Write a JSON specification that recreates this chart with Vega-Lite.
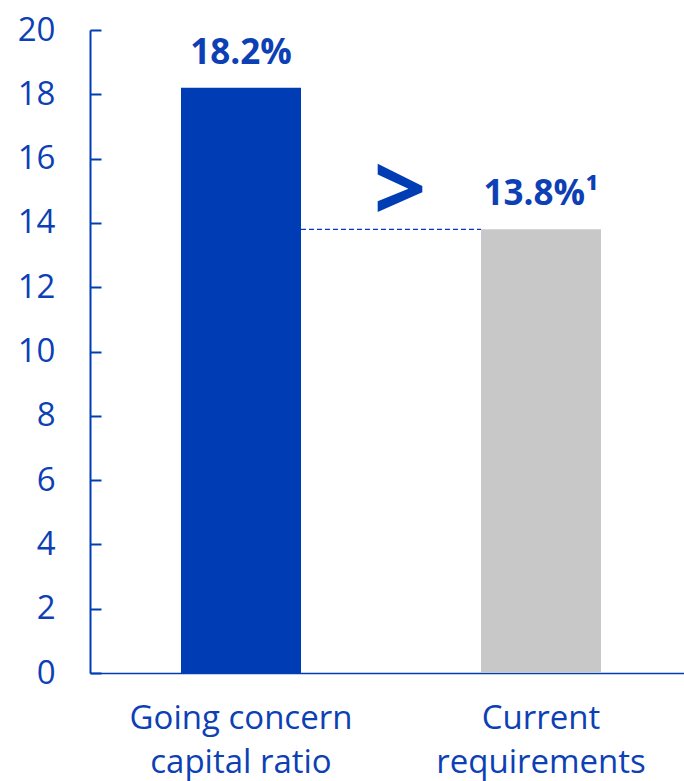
{
  "$schema": "https://vega.github.io/schema/vega-lite/v6.json",
  "width": 594,
  "height": 643,
  "autosize": "none",
  "padding": {"left": 90, "top": 30, "right": 0, "bottom": 108},
  "background": "white",
  "config": {"view": {"stroke": null}, "font": "Open Sans"},
  "data": {"values": [
    {"category": "Going concern capital ratio", "value": 18.2, "label": "18.2%"},
    {"category": "Current requirements", "value": 13.8, "label": "13.8%¹"}
  ]},
  "encoding": {
    "x": {
      "field": "category", "type": "nominal", "sort": null,
      "scale": {"paddingInner": 0.6, "paddingOuter": 0.29, "align": 0.523},
      "axis": {
        "title": null, "labelAngle": 0, "ticks": false,
        "domainColor": "#003DB5", "domainWidth": 1.5,
        "labelColor": "#0D3FB5", "labelFontSize": 33, "labelFont": "Open Sans",
        "labelLineHeight": 44, "labelPadding": 29, "labelBaseline": "top", "labelLimit": 400,
        "labelExpr": "datum.label == 'Going concern capital ratio' ? ['Going concern', 'capital ratio'] : ['Current', 'requirements']"
      }
    }
  },
  "layer": [
    {
      "data": {"values": [{"from": "Going concern capital ratio", "to": "Current requirements", "value": 13.8}]},
      "mark": {"type": "rule", "strokeDash": [5, 3], "strokeWidth": 1.3, "color": "#003DB5"},
      "encoding": {
        "x": {"field": "from", "type": "nominal", "bandPosition": 1},
        "x2": {"field": "to", "bandPosition": 0},
        "y": {"field": "value", "type": "quantitative"}
      }
    },
    {
      "mark": {"type": "bar"},
      "encoding": {
        "y": {
          "field": "value", "type": "quantitative",
          "scale": {"domain": [0, 20], "nice": false},
          "axis": {
            "title": null, "grid": false, "values": [0, 2, 4, 6, 8, 10, 12, 14, 16, 18, 20],
            "domainColor": "#003DB5", "domainWidth": 2,
            "tickColor": "#003DB5", "tickWidth": 2, "tickSize": -11,
            "labelColor": "#0D3FB5", "labelFontSize": 33, "labelFont": "Open Sans",
            "labelPadding": 46
          }
        },
        "color": {
          "field": "category", "type": "nominal", "legend": null,
          "scale": {"domain": ["Going concern capital ratio", "Current requirements"], "range": ["#003DB5", "#C8C8C8"]}
        }
      }
    },
    {
      "mark": {"type": "text", "fontWeight": "bold", "fontSize": 35, "baseline": "alphabetic", "dy": -24, "color": "#0D3FB5"},
      "encoding": {
        "y": {"field": "value", "type": "quantitative"},
        "text": {"field": "label"}
      }
    },
    {
      "data": {"values": [{"from": "Going concern capital ratio", "symbol": ">", "value": 13.8}]},
      "mark": {"type": "text", "fontWeight": "bold", "fontSize": 92, "baseline": "middle", "dy": -36, "color": "#003DB5"},
      "encoding": {
        "x": {"field": "from", "type": "nominal"},
        "xOffset": {"value": 219},
        "y": {"field": "value", "type": "quantitative"},
        "text": {"field": "symbol"}
      }
    }
  ]
}
